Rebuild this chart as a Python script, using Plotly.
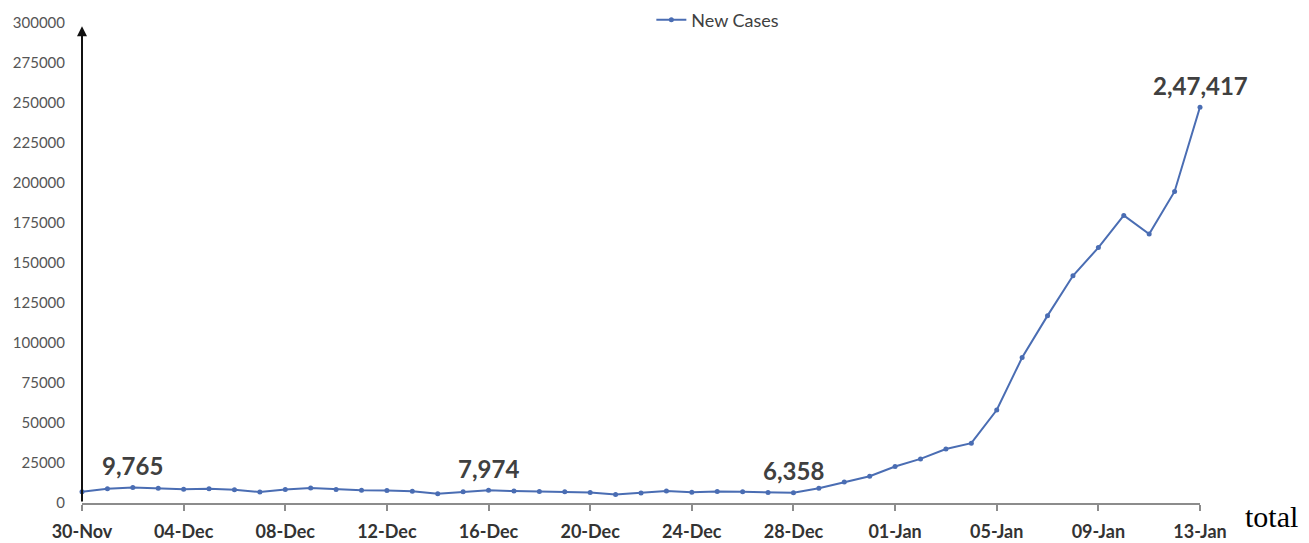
import plotly.graph_objects as go
import pandas as pd

dates = [d.strftime("%d-%b") for d in pd.date_range("2021-11-30", "2022-01-13", freq="D")]
new_cases = [6990, 8954, 9765, 9216, 8603, 8895, 8306, 6822, 8439, 9419,
             8503, 7992, 7774, 7350, 5784, 6984, 7974, 7447, 7145, 7081,
             6563, 5326, 6317, 7495, 6650, 7189, 6987, 6531, 6358, 9195,
             13154, 16764, 22775, 27553, 33750, 37379, 58097, 90928, 117100, 141986,
             159632, 179723, 168063, 194720, 247417]
tick_labels = ["30-Nov", "04-Dec", "08-Dec", "12-Dec", "16-Dec", "20-Dec",
               "24-Dec", "28-Dec", "01-Jan", "05-Jan", "09-Jan", "13-Jan"]
callouts = {"02-Dec": "9,765", "16-Dec": "7,974", "28-Dec": "6,358", "13-Jan": "2,47,417"}
y_ticks = list(range(0, 300001, 25000))

color = "#4a6db3"
fig = go.Figure()
fig.add_trace(go.Scatter(
    x=dates, y=new_cases, mode="lines+markers", name="New Cases",
    line=dict(color=color, width=2), marker=dict(color=color, size=5),
    cliponaxis=False))

for d, txt in callouts.items():
    i = dates.index(d)
    fig.add_annotation(x=d, y=new_cases[i], text="<b>" + txt + "</b>", showarrow=False,
                       yshift=22, font=dict(family="Lato", size=24, color="#404040"))

# y axis arrow
fig.add_annotation(x=dates[0], y=298000, ax=dates[0], ay=0, axref="x", ayref="y",
                   xref="x", yref="y", text="", showarrow=True, arrowhead=2,
                   arrowsize=1, arrowwidth=2, arrowcolor="#111111")

fig.add_annotation(x=1.064, y=-0.028, xref="paper", yref="paper", text="total",
                   showarrow=False, xanchor="center", yanchor="middle",
                   font=dict(family="Liberation Serif", size=30, color="#000000"))

fig.update_layout(
    width=1301, height=535,
    margin=dict(l=74, r=109, t=15, b=40, autoexpand=False),
    plot_bgcolor="white", paper_bgcolor="white",
    showlegend=True,
    legend=dict(orientation="h", xref="container", yref="container",
                x=0.4945, xanchor="left", y=0.9776, yanchor="middle",
                font=dict(family="Lato", size=18, color="#404040"),
                bgcolor="rgba(0,0,0,0)", itemwidth=30),
    xaxis=dict(type="category", range=[0, len(dates) - 1], tickmode="array",
               tickvals=tick_labels, ticktext=["<b>" + t + "</b>" for t in tick_labels],
               showline=True, linecolor="#8c8c8c", linewidth=1.5,
               ticks="outside", ticklen=6, tickcolor="#8c8c8c", tickwidth=1.5,
               ticklabelstandoff=6, automargin=False,
               showgrid=False, zeroline=False,
               tickfont=dict(family="Lato", size=18, color="#333333")),
    yaxis=dict(range=[0, 300000], tickvals=y_ticks, ticktext=[str(v) for v in y_ticks],
               showgrid=False, zeroline=False, showline=False, ticks="",
               ticklabelstandoff=16, automargin=False,
               tickfont=dict(family="Lato", size=15, color="#555555")),
)

fig.write_html("out.html")
